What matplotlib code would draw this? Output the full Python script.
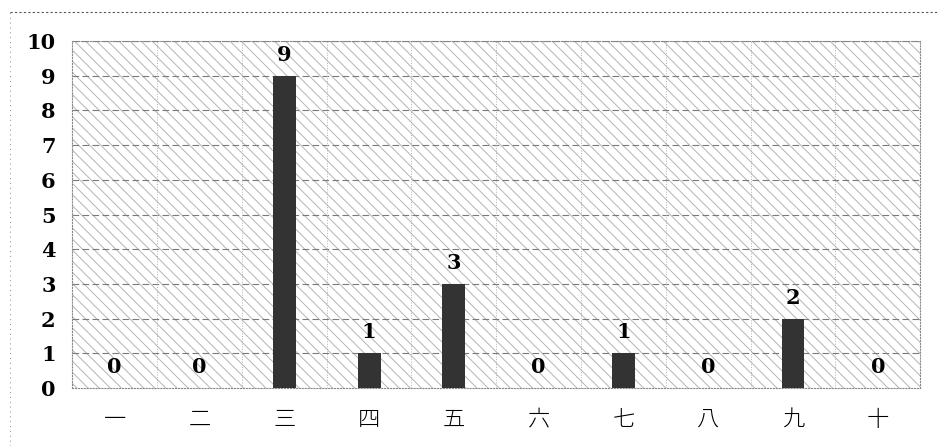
import matplotlib
matplotlib.use('Agg')
from matplotlib import pyplot as plt
from matplotlib.lines import Line2D
import numpy as np

# Data
categories = ['一', '二', '三', '四', '五', '六', '七', '八', '九', '十']
counts = [0, 0, 9, 1, 3, 0, 1, 0, 2, 0]
y_ticks = list(range(0, 11))

plt.rcParams['hatch.color'] = '#b4b4b4'
plt.rcParams['hatch.linewidth'] = 0.7

fig = plt.figure(figsize=(9.39, 4.46), dpi=100)
ax = fig.add_axes([0.077, 0.130, 0.903, 0.778])

# Hatched plot background
ax.patch.set_facecolor('white')
ax.patch.set_hatch('\\\\\\')
ax.patch.set_edgecolor('#b4b4b4')

x = np.arange(len(categories))
bars = ax.bar(x, counts, width=0.27, color='#333333', zorder=3)
ax.bar_label(bars, labels=[str(c) for c in counts], padding=8,
             fontsize=15, fontweight='bold', family='DejaVu Serif', zorder=4)

ax.set_xlim(-0.5, len(categories) - 0.5)
ax.set_ylim(0, 10)
ax.set_yticks(y_ticks)
ax.set_yticklabels([str(t) for t in y_ticks], family='DejaVu Serif',
                   fontweight='bold', fontsize=15)
ax.set_xticks(x)
ax.set_xticklabels(categories, family=['Noto Sans CJK JP', 'DejaVu Sans'],
                   fontsize=16, fontweight='light')
ax.tick_params(axis='y', length=0, pad=12)
ax.tick_params(axis='x', length=0, pad=15)

# Grid: dashed horizontal, dotted vertical at category boundaries
ax.set_axisbelow(True)
for yv in y_ticks[1:]:
    ax.axhline(yv, color='#7a7a7a', lw=0.8, ls=(0, (6, 3)), zorder=1)
for xv in np.arange(0.5, len(categories) - 0.5, 1.0):
    ax.axvline(xv, color='#b0b0b0', lw=0.7, ls=':', zorder=1)

for side in ['top', 'right', 'bottom', 'left']:
    ax.spines[side].set_color('#888888')
    ax.spines[side].set_linestyle(':')
    ax.spines[side].set_linewidth(0.8)

# Dotted outer frame (top and left)
fig.add_artist(Line2D([0.011, 1.0], [0.973, 0.973], transform=fig.transFigure,
                      color='#555555', lw=0.8, ls=(0, (2, 2))))
fig.add_artist(Line2D([0.011, 0.011], [0.0, 0.973], transform=fig.transFigure,
                      color='#888888', lw=0.7, ls=(0, (1, 4))))

fig.savefig('out.png', dpi=100)
